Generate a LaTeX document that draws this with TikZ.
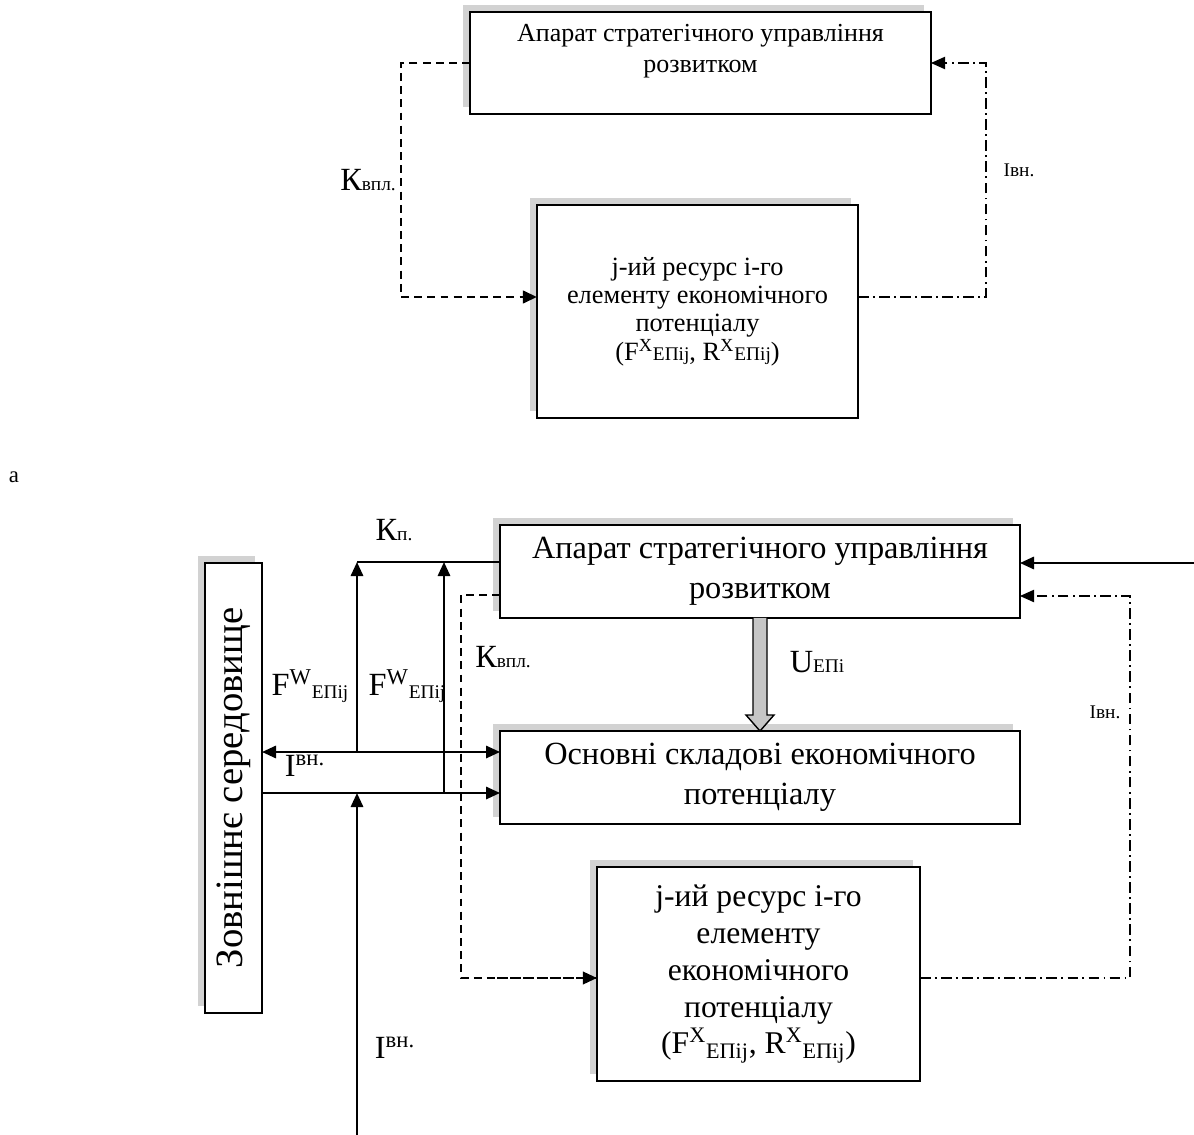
\documentclass[tikz,border=0pt]{standalone}
\usepackage{fontspec}
\setmainfont{Liberation Serif}
\usetikzlibrary{arrows.meta, positioning, calc, shadows}

\newcommand{\bigtxt}{\fontsize{18.4}{23}\selectfont}
\newcommand{\midtxt}{\fontsize{14.8}{17.5}\selectfont}
\newcommand{\subtxt}{\fontsize{11}{12}\selectfont}

\tikzset{
  box/.style={draw, line width=1.1pt, fill=white, inner sep=0pt, outer sep=0pt, align=center,
    general shadow={fill=gray!35, shadow xshift=-4pt, shadow yshift=4pt}},
  lbl/.style={inner sep=0pt, font=\bigtxt},
  lblsmall/.style={inner sep=0pt, font=\fontsize{11}{12}\selectfont},
  dsh/.style={dash pattern=on 4.5pt off 3pt},
  dshdot/.style={dash pattern=on 6pt off 2.5pt on 1pt off 2.5pt},
  fatarrow/.style={draw, line width=0.8pt, fill=gray!45}
}

\begin{document}
\begin{tikzpicture}[x=0.02cm, y=-0.02cm, >={Triangle[length=8pt, width=7pt]}, semithick]
        \useasboundingbox (0,0) rectangle (1194,1135);

        % Variant a
        \node[box, minimum width=9.22cm, minimum height=2.04cm] (a1) at (700.5,63) {};
        \node[font=\midtxt, align=center, below=0.12cm of a1.north] (a1t) {Апарат стратегічного управління\\розвитком};
        \node[box, font=\fontsize{15}{16.2}\selectfont, minimum width=6.42cm, minimum height=4.26cm] (j1) at (697.5,311.5)
            {j-ий ресурс і-го\\елементу економічного\\потенціалу\\(F\textsuperscript{X}{\subtxt ЕПij}, R\textsuperscript{X}{\subtxt ЕПij})};

        \coordinate (kc) at (401,297);
        \coordinate (ic) at (986,297);

        % Influence from the management body
        \draw[dsh] (a1.west) -| (kc);
        \draw[dsh, line width=1.7pt, ->] (kc) -- (kc -| j1.west);
        % Information back to it
        \draw[dshdot, ->] (j1.east |- ic) -- (ic) |- (a1.east);

        \node[lbl] (kv1) at (368,180) {К{\subtxt впл.}};
        \node[lblsmall] (iv1) at (1019,170) {Івн.};
        \node[inner sep=0pt, font=\fontsize{13}{14}\selectfont] (la) at (14,477) {a};

        % Variant b
        \node[box, minimum width=1.14cm, minimum height=9cm] (env) at (233.5,788) {};
        \node[rotate=90, font=\fontsize{22}{24}\selectfont] (envt) at (env) {Зовнішнє середовище};
        \node[box, font=\bigtxt, minimum width=10.4cm, minimum height=1.86cm] (a2) at (760,571.5)
            {Апарат стратегічного управління\\розвитком};
        \node[box, font=\bigtxt, minimum width=10.4cm, minimum height=1.86cm] (o) at (760,777.5)
            {Основні складові економічного\\потенціалу};
        \node[box, font=\fontsize{18}{21}\selectfont, minimum width=6.46cm, minimum height=4.28cm] (j2) at (758.5,974)
            {j-ий ресурс і-го\\елементу\\економічного\\потенціалу\\(F\textsuperscript{X}\textsubscript{ЕПij}, R\textsuperscript{X}\textsubscript{ЕПij})};

        \coordinate (kp) at (357,562);
        \coordinate (kp2) at (444,562);
        \coordinate (f1) at (357,752);
        \coordinate (f2) at (444,793);
        \coordinate (ib) at (357,1135);
        \coordinate (rin) at (1194,563);
        \coordinate (kc2) at (461,595);
        \coordinate (ic2) at (1130,596);

        % Flows between the environment and the potential
        \draw[line width=1pt] (kp -| a2.west) -- (kp);
        \draw[line width=1.3pt, ->] (f1) -- (kp);
        \draw[line width=1.3pt, ->] (f2) -- (kp2);
        \draw[line width=1.3pt, <->] (f1 -| env.east) -- (f1 -| o.west);
        \draw[line width=1.3pt, ->] (f2 -| env.east) -- (f2 -| o.west);
        \draw[line width=1.3pt, ->] (ib) -- (ib |- f2);
        \draw[line width=1.3pt, ->] (rin) -- (rin -| a2.east);

        % Control of the main components
        \draw[fatarrow] ($(a2.south)+(-7,0)$) -- ($(o.north)+(-7,-16)$) -- ($(o.north)+(-14,-16)$)
            -- (o.north) -- ($(o.north)+(14,-16)$) -- ($(o.north)+(7,-16)$) -- ($(a2.south)+(7,0)$);

        % Influence and information loops
        \draw[dsh] (kc2 -| a2.west) -- (kc2) |- ($(j2.west)+(0,4)$);
        \draw[dsh, line width=1.5pt, ->] ($(j2.west)+(-100,4)$) -- ($(j2.west)+(0,4)$);
        \draw[dshdot, ->] ($(j2.east)+(0,4)$) -| (ic2) -- (ic2 -| a2.east);

        \node[lbl] (kp1) at (394,530) {К{\subtxt п.}};
        \node[lbl] (fw1) at (310,686) {F\textsuperscript{W}\raisebox{-2pt}{\subtxt ЕПij}};
        \node[lbl] (fw2) at (407,686) {F\textsuperscript{W}\raisebox{-2pt}{\subtxt ЕПij}};
        \node[lbl] (iv2) at (305,766) {I\textsuperscript{вн.}};
        \node[lbl] (iv3) at (395,1048) {I\textsuperscript{вн.}};
        \node[lbl] (kv2) at (503,657) {К{\subtxt впл.}};
        \node[lbl] (ue) at (817,662) {U{\subtxt ЕПі}};
        \node[lblsmall] (iv4) at (1105,712) {Івн.};
\end{tikzpicture}
\end{document}
